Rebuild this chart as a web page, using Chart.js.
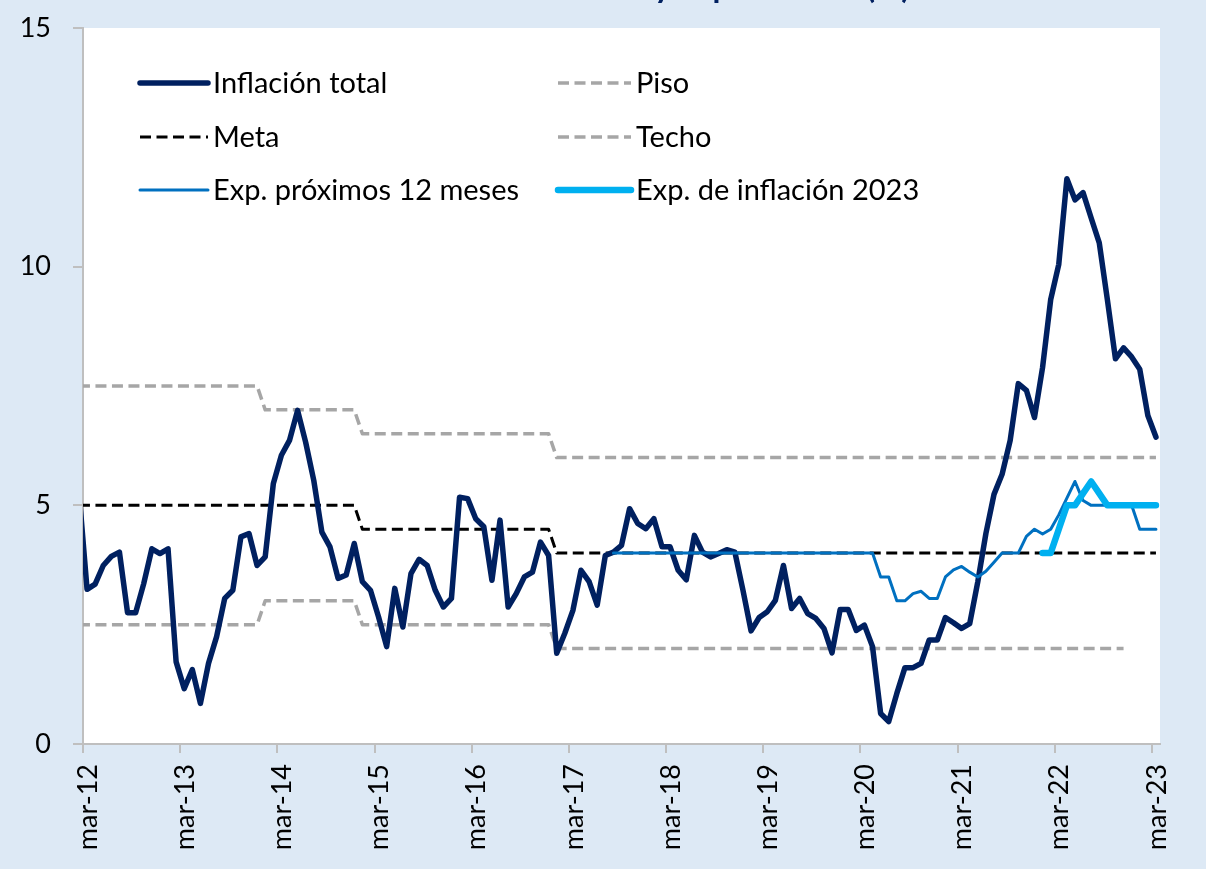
<!DOCTYPE html>
<html lang="es">
<head>
<meta charset="utf-8">
<title>Inflación y expectativas</title>
<script src="https://cdn.jsdelivr.net/npm/chart.js@4.4.1/dist/chart.umd.min.js"></script>
<style>
  html, body { margin: 0; padding: 0; background: #dde9f5; }
  #caja { width: 1206px; height: 869px; }
</style>
</head>
<body>
<div id="caja"><canvas id="grafico" width="1206" height="869"></canvas></div>
<script>
// meses como "mmm-aa"; cada dato se ubica a mitad de su mes
const mesesAbr = ['ene', 'feb', 'mar', 'abr', 'may', 'jun', 'jul', 'ago', 'sep', 'oct', 'nov', 'dic']

const etiquetasX = ['mar-12', 'mar-13', 'mar-14', 'mar-15', 'mar-16', 'mar-17',
    'mar-18', 'mar-19', 'mar-20', 'mar-21', 'mar-22', 'mar-23']

// Inflación total interanual (%), desde feb-12 hasta mar-23
const inflacionDesde = 'feb-12'
const inflacion = [
    5.3, 3.24, 3.35, 3.74, 3.93, 4.02, 2.75, 2.75, 3.36, 4.09, 3.99, 4.09,
    1.72, 1.16, 1.56, 0.85, 1.69, 2.25, 3.05, 3.22, 4.34, 4.41, 3.74, 3.92,
    5.45, 6.05, 6.36, 6.99, 6.32, 5.52, 4.44, 4.13, 3.47, 3.54, 4.2, 3.4,
    3.22, 2.66, 2.04, 3.26, 2.45, 3.57, 3.87, 3.74, 3.22, 2.87, 3.05, 5.17,
    5.14, 4.72, 4.55, 3.43, 4.69, 2.87, 3.15, 3.5, 3.6, 4.23, 3.95, 1.9,
    2.32, 2.8, 3.64, 3.4, 2.91, 3.95, 4.02, 4.16, 4.93, 4.62, 4.51, 4.72,
    4.13, 4.13, 3.64, 3.44, 4.37, 4.02, 3.92, 3.99, 4.07, 4.02, 3.22, 2.37,
    2.65, 2.77, 3.01, 3.74, 2.84, 3.05, 2.73, 2.63, 2.42, 1.91, 2.82, 2.82,
    2.38, 2.49, 2.04, 0.64, 0.47, 1.06, 1.6, 1.6, 1.69, 2.18, 2.18, 2.65,
    2.54, 2.42, 2.52, 3.4, 4.41, 5.23, 5.65, 6.36, 7.55, 7.41, 6.84, 7.89,
    9.31, 10.05, 11.84, 11.4, 11.55, 11.02, 10.5, 9.31, 8.07, 8.3, 8.11, 7.85,
    6.88, 6.43
]

// Expectativas de inflación a 12 meses (%)
const expDoceDesde = 'ago-17'
const expDoce = [
    4, 4, 4, 4, 4, 4, 4, 4, 4, 4, 4, 4,
    4, 4, 4, 4, 4, 4, 4, 4, 4, 4, 4, 4,
    4, 4, 4, 4, 4, 4, 4, 4, 4, 3.5, 3.5, 3.0,
    3.0, 3.15, 3.2, 3.05, 3.05, 3.5, 3.65, 3.72, 3.6, 3.5, 3.62, 3.81,
    4.0, 4.0, 4.0, 4.35, 4.5, 4.4, 4.5, 4.8, 5.15, 5.5, 5.1, 5.0,
    5.0, 5.0, 5.0, 5.0, 5.0, 4.5, 4.5, 4.5
]

// Expectativas de inflación para 2023 (%)
const exp2023Desde = 'ene-22'
const exp2023 = [4.0, 4.0, 4.5, 5.0, 5.0, 5.25, 5.5, 5.25, 5.0, 5.0, 5.0, 5.0, 5.0, 5.0, 5.0]

// meta y rango de tolerancia: meses donde cambia el valor
const metaMeses = ['feb-12', 'dic-14', 'ene-15', 'dic-16', 'ene-17', 'mar-23']
const metaValores = [5, 5, 4.5, 4.5, 4, 4]

const techoMeses = ['feb-12', 'dic-13', 'ene-14', 'dic-14', 'ene-15', 'dic-16', 'ene-17', 'mar-23']
const techoValores = [7.5, 7.5, 7, 7, 6.5, 6.5, 6, 6]

const pisoMeses = ['feb-12', 'dic-13', 'ene-14', 'dic-14', 'ene-15', 'dic-16', 'ene-17', 'nov-22']
const pisoValores = [2.5, 2.5, 3, 3, 2.5, 2.5, 2, 2]

function posMes(mes) {
    const [mm, aa] = mes.split('-')
    return (Number(aa) - 12) * 12 + mesesAbr.indexOf(mm) - 2 + 0.5
}

function serieMensual(valores, desde) {
    const x0 = posMes(desde)
    return valores.map((v, k) => ({ x: x0 + k, y: v }))
}

function serieEscalones(meses, valores) {
    return meses.map((m, k) => ({ x: posMes(m), y: valores[k] }))
}

const FUENTE = 'Lato'
const GUION = [11, 5.5]

const fondo = {
    id: 'fondo',
    beforeDraw(chart) {
        const { ctx, chartArea: a, width, height } = chart
        ctx.save()
        ctx.fillStyle = '#dde9f5'
        ctx.fillRect(0, 0, width, height)
        ctx.fillStyle = '#ffffff'
        ctx.fillRect(a.left, a.top, a.right - a.left, a.bottom - a.top)
        ctx.restore()
    }
}

// leyenda en dos columnas dentro del área del gráfico
const leyenda = {
    id: 'leyenda',
    afterDraw(chart) {
        const { ctx, chartArea: a } = chart
        const orden = ['Inflación total', 'Piso', 'Meta', 'Techo', 'Exp. próximos 12 meses', 'Exp. de inflación 2023']
        const muestras = [a.left + 57, a.left + 475]
        const textos = [a.left + 130, a.left + 553]
        const filas = [a.top + 55, a.top + 109, a.top + 162]
        ctx.save()
        ctx.font = '29px ' + FUENTE
        ctx.textBaseline = 'middle'
        ctx.fillStyle = '#000'
        orden.forEach((nombre, k) => {
            const ds = chart.data.datasets.find(d => d.label === nombre)
            const col = k % 2
            const y = filas[Math.floor(k / 2)]
            ctx.beginPath()
            ctx.strokeStyle = ds.borderColor
            ctx.lineWidth = ds.borderWidth
            ctx.setLineDash(ds.borderDash || [])
            ctx.lineCap = ds.borderDash ? 'butt' : 'round'
            ctx.moveTo(muestras[col], y)
            ctx.lineTo(textos[col] - 5, y)
            ctx.stroke()
            ctx.setLineDash([])
            ctx.fillText(nombre, textos[col], y + 1)
        })
        ctx.restore()
    }
}

const titulo = {
    id: 'titulo',
    afterDraw(chart) {
        const { ctx } = chart
        ctx.save()
        ctx.font = 'bold 32px ' + FUENTE
        ctx.fillStyle = '#002060'
        ctx.textAlign = 'center'
        ctx.textBaseline = 'alphabetic'
        ctx.fillText('Inflación total y expectativas (%)', 680, -2)
        ctx.restore()
    }
}

function linea(label, data, color, ancho, dash) {
    const ds = {
        label: label,
        data: data,
        borderColor: color,
        backgroundColor: color,
        borderWidth: ancho,
        pointRadius: 0,
        pointHoverRadius: 0,
        tension: 0,
        fill: false,
        clip: 0,
        borderJoinStyle: 'round',
        borderCapStyle: dash ? 'butt' : 'round'
    }
    if (dash) ds.borderDash = dash
    return ds
}

const ctx = document.getElementById('grafico').getContext('2d')

new Chart(ctx, {
    type: 'line',
    data: {
        datasets: [
            linea('Exp. de inflación 2023', serieMensual(exp2023, exp2023Desde), '#00b0f0', 6.5),
            linea('Exp. próximos 12 meses', serieMensual(expDoce, expDoceDesde), '#0070c0', 3),
            linea('Inflación total', serieMensual(inflacion, inflacionDesde), '#002060', 5.5),
            linea('Meta', serieEscalones(metaMeses, metaValores), '#000000', 3, GUION),
            linea('Techo', serieEscalones(techoMeses, techoValores), '#a6a6a6', 3.5, GUION),
            linea('Piso', serieEscalones(pisoMeses, pisoValores), '#a6a6a6', 3.5, GUION)
        ]
    },
    options: {
        responsive: false,
        animation: false,
        devicePixelRatio: 1,
        layout: {
            padding: { top: 28, right: 46, bottom: 0, left: 0 }
        },
        plugins: {
            legend: { display: false },
            tooltip: { enabled: false }
        },
        scales: {
            x: {
                type: 'linear',
                min: 0,
                max: 133,
                afterBuildTicks: scale => {
                    scale.ticks = etiquetasX.map(m => ({ value: posMes(m) - 0.5 }))
                },
                afterFit: scale => { scale.height = 125 },
                ticks: {
                    autoSkip: false,
                    minRotation: 90,
                    maxRotation: 90,
                    padding: 11,
                    labelOffset: 5,
                    color: '#000',
                    font: { family: FUENTE, size: 27 },
                    callback: (v, i) => etiquetasX[i]
                },
                grid: {
                    drawOnChartArea: false,
                    drawTicks: true,
                    tickLength: 9,
                    color: '#bfbfbf',
                    lineWidth: 2
                },
                border: { color: '#bfbfbf', width: 2 }
            },
            y: {
                min: 0,
                max: 15,
                // el ancho fijo deja el eje en x = 83; sin relleno extra arriba
                afterFit: scale => {
                    scale.width = 83
                    scale.paddingTop = 0
                    scale.paddingBottom = 0
                },
                ticks: {
                    stepSize: 5,
                    padding: 22,
                    color: '#000',
                    font: { family: FUENTE, size: 27 }
                },
                grid: {
                    drawOnChartArea: false,
                    drawTicks: true,
                    tickLength: 10,
                    color: '#bfbfbf',
                    lineWidth: 2
                },
                border: { color: '#bfbfbf', width: 2 }
            }
        }
    },
    plugins: [fondo, leyenda, titulo]
});
</script>
</body>
</html>
